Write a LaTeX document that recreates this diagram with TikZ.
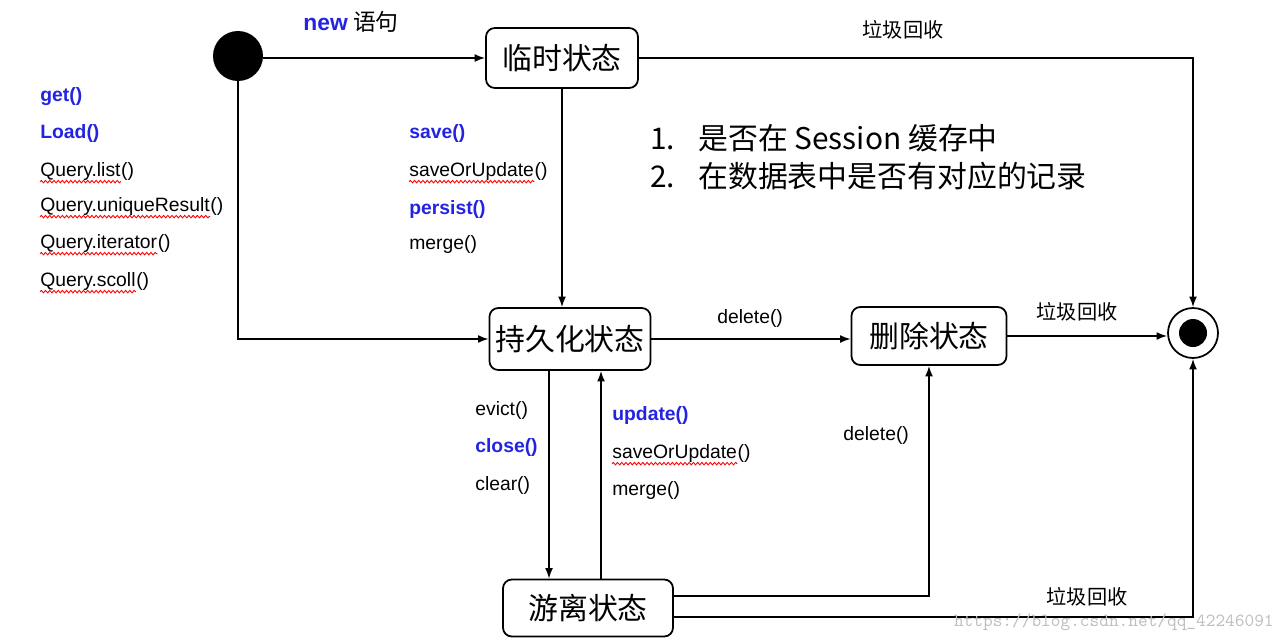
\documentclass[tikz,border=0pt]{standalone}
\usepackage{fontspec}
\setmainfont{Liberation Sans}
\newfontfamily\cjk{Noto Sans CJK SC}
\usepackage{xcolor}
\usetikzlibrary{arrows.meta, positioning, decorations.pathmorphing}
\definecolor{kwblue}{RGB}{35,35,225}
\tikzset{
  state/.style={draw, rounded corners=5pt, line width=1pt, font=\cjk\fontsize{17}{20}\selectfont, minimum height=1.2cm},
  lbl/.style={anchor=west, inner sep=0pt, font=\fontsize{11}{13}\selectfont},
  kw/.style={lbl, text=kwblue, font=\bfseries\fontsize{11}{13}\selectfont},
  paren/.style={anchor=base west, inner sep=0pt, font=\fontsize{11}{13}\selectfont},
  gc/.style={inner sep=0pt, font=\cjk\fontsize{11.5}{13}\selectfont},
  flow/.style={-{Latex[length=6pt,width=4.5pt]}, line width=0.9pt},
  squig/.style={red, line width=0.5pt, decorate, decoration={snake, amplitude=0.7pt, segment length=2.4pt}}
}

\begin{document}
\begin{tikzpicture}[x=0.02cm, y=-0.02cm]
                        \useasboundingbox (0,0) rectangle (1284,643);
                        \node[circle, fill, minimum size=1cm] (ini) at (238,56) {};
                        \node[state, minimum width=3.04cm] (tmp) at (562,58) {临时状态};
                        \node[state, minimum width=3.1cm, minimum height=1.24cm] (per) at (570,339) {持久化状态};
                        \node[state, minimum width=3.1cm, minimum height=1.16cm] (del) at (929,336) {删除状态};
                        \node[state, minimum width=3.4cm, minimum height=1.14cm] (det) at (588,608) {游离状态};
                        \node[circle, draw, line width=1pt, minimum size=1cm] (fin) at (1193,333) {};
                        \fill (fin.center) circle (0.28cm);
                        \draw[flow] (tmp.west -| ini.east) -- (tmp.west);
                        \draw[flow] (tmp) -| (fin);
                        \draw[flow] (tmp) -- (tmp |- per.north);
                        \draw[flow] (ini) |- (per);
                        \draw[flow] (per) -- (per -| del.west);
                        \draw[flow] (del) -- (del -| fin.west);
                        \draw[flow] ([xshift=-0.42cm]per.south) -- ([xshift=-0.42cm]per.south |- det.north);
                        \draw[flow] ([xshift=0.26cm]det.north) -- ([xshift=0.26cm]det.north |- per.south);
                        \draw[flow] ([yshift=0.24cm]det.east) -| (del);
                        \draw[flow] ([yshift=-0.18cm]det.east) -| (fin);
                        \node[lbl] (new) at (303,22) {\textcolor{kwblue}{\bfseries\fontsize{13}{15}\selectfont new} {\cjk\fontsize{13}{15}\selectfont 语句}};
                        \node[gc] (gc1) at (903,30) {垃圾回收};
                        \node[gc] (gc2) at (1077,312) {垃圾回收};
                        \node[gc] (gc3) at (1087,597) {垃圾回收};
                        \node[kw] (get) at (40,97) {get()};
                        \node[kw] (load) at (40,133) {Load()};
                        \node[lbl] (qlist) at (40,171) {Query.list};
                        \node[paren] (qlistp) at (qlist.base east) {()};
                        \node[lbl] (quniq) at (40,206) {Query.uniqueResult};
                        \node[paren] (quniqp) at (quniq.base east) {()};
                        \node[lbl] (qiter) at (40,243) {Query.iterator};
                        \node[paren] (qiterp) at (qiter.base east) {()};
                        \node[lbl] (qscoll) at (40,281) {Query.scoll};
                        \node[paren] (qscollp) at (qscoll.base east) {()};
                        \node[kw] (save) at (409,133) {save()};
                        \node[lbl] (sou1) at (409,171) {saveOrUpdate};
                        \node[paren] (sou1p) at (sou1.base east) {()};
                        \node[kw] (persist) at (409,209) {persist()};
                        \node[lbl] (merge1) at (409,244) {merge()};
                        \node[lbl] (evict) at (475,410) {evict()};
                        \node[kw] (close) at (475,447) {close()};
                        \node[lbl] (clear) at (475,485) {clear()};
                        \node[kw] (update) at (612,415) {update()};
                        \node[lbl] (sou2) at (612,453) {saveOrUpdate};
                        \node[paren] (sou2p) at (sou2.base east) {()};
                        \node[lbl] (merge2) at (612,490) {merge()};
                        \node[lbl] (del1) at (717,318) {delete()};
                        \node[lbl] (del2) at (843,435) {delete()};
                        \foreach \w in {qlist, quniq, qiter, qscoll, sou1, sou2}
                            \draw[squig] ([yshift=-3.2pt]\w.base west) -- ([yshift=-3.2pt]\w.base east);
                        \node[anchor=west, inner sep=0pt, font=\cjk\fontsize{17}{20}\selectfont] (q1) at (650,138) {\makebox[0.96cm][l]{1.}是否在 Session 缓存中};
                        \node[anchor=west, inner sep=0pt, font=\cjk\fontsize{17}{20}\selectfont] (q2) at (650,176) {\makebox[0.96cm][l]{2.}在数据表中是否有对应的记录};
                        \node[anchor=east, inner sep=0pt, text=black!25, font=\ttfamily\fontsize{10.5}{12}\selectfont] (wm) at (1274,622) {https://blog.csdn.net/qq\_42246091};
                    \end{tikzpicture}
\end{document}
